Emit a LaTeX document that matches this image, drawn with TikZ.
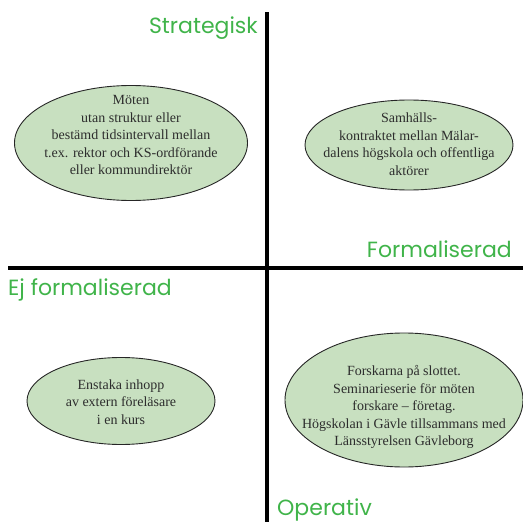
\documentclass[tikz,border=0pt]{standalone}
\usepackage{fontspec}
\setmainfont{Liberation Serif}
\newfontfamily\labelfont{Poppins}
\usetikzlibrary{shapes.geometric}
\definecolor{lblgreen}{RGB}{64,180,74}
\definecolor{ellfill}{RGB}{200,224,192}
\definecolor{txtgray}{RGB}{45,45,45}
\tikzset{
  oval/.style={ellipse, draw=black!85, line width=0.9pt, fill=ellfill, inner sep=0pt},
  ovaltext/.style={align=center, text=txtgray, inner sep=0pt, font=\fontsize{14}{17.5}\selectfont},
  axislabel/.style={text=lblgreen, font=\labelfont\fontsize{22}{24}\selectfont, inner sep=0pt},
  axis/.style={line width=4pt, black}
}
\begin{document}
\begin{tikzpicture}[x=1pt,y=-1pt]
\useasboundingbox (0,0) rectangle (523,522);
% axes
\coordinate (vtop) at (267,12);
\coordinate (vbot) at (267,522);
\coordinate (hleft) at (8,267.5);
\coordinate (hright) at (523,267.5);
\draw[axis] (vtop) -- (vbot);
\draw[axis] (hleft) -- (hright);
% labels
\node[axislabel, anchor=base east] (strat) at (258,33) {Strategisk};
\node[axislabel, anchor=base east] (form) at (512,257) {Formaliserad};
\node[axislabel, anchor=base west] (ejform) at (8,295) {Ej formaliserad};
\node[axislabel, anchor=base west] (oper) at (277,515) {Operativ};
% ellipses
\node[oval, minimum width=233pt, minimum height=115pt] (tl) at (131,143) {};
\node[ovaltext] (tltext) at (131,135)
  {Möten\\utan struktur eller\\bestämd tidsintervall mellan\\t.ex. rektor och KS-ordförande\\eller kommundirektör};
\node[oval, minimum width=208pt, minimum height=90pt] (tr) at (409,145) {};
\node[ovaltext] (trtext) at (409,144)
  {Samhälls-\\kontraktet mellan Mälar-\\dalens högskola och offentliga\\aktörer};
\node[oval, minimum width=188pt, minimum height=87pt] (bl) at (121,401) {};
\node[ovaltext] (bltext) at (121,402)
  {Enstaka inhopp\\av extern föreläsare\\i en kurs};
\node[oval, minimum width=238pt, minimum height=134pt] (br) at (404,400) {};
\node[ovaltext] (brtext) at (404,407)
  {Forskarna på slottet.\\Seminarieserie för möten\\forskare -- företag.\\Högskolan i Gävle tillsammans med\\Länsstyrelsen Gävleborg};
\end{tikzpicture}
\end{document}
